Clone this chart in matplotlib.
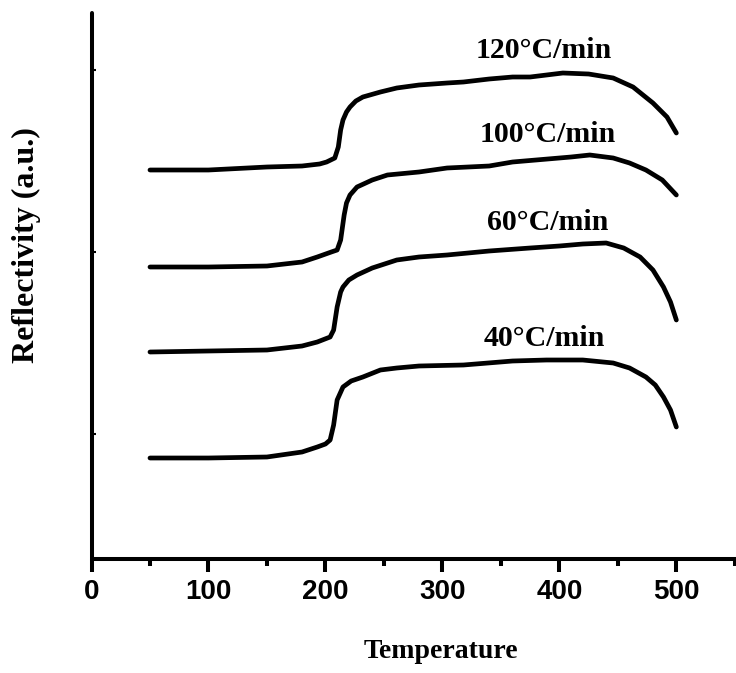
import matplotlib
matplotlib.use("Agg")
import matplotlib.pyplot as plt
from matplotlib.ticker import MultipleLocator, FixedLocator

# Data (temperature in °C, reflectivity in arbitrary units)
x_120 = [50, 100, 150, 180, 195, 201, 208, 211, 213, 215, 218, 221, 226, 232, 247, 261, 280, 304, 318, 340, 360, 375, 403, 425, 446, 463, 480, 492, 500]
y_120 = [264, 264, 267, 268, 270, 272, 276, 287, 304, 314, 322, 327, 333, 337, 342, 346, 349, 351, 352, 355, 357, 357, 361, 360, 356, 347, 331, 317, 301]

x_100 = [50, 100, 150, 180, 193, 205, 210, 213, 216, 218, 221, 227, 240, 253, 280, 304, 340, 360, 380, 410, 426, 446, 460, 474, 488, 500]
y_100 = [167, 167, 168, 172, 177, 182, 184, 194, 219, 231, 239, 247, 254, 259, 262, 266, 268, 272, 274, 277, 279, 276, 271, 264, 254, 239]

x_60 = [50, 100, 150, 180, 193, 204, 207, 210, 213, 215, 220, 227, 240, 261, 280, 304, 340, 375, 400, 420, 440, 455, 469, 480, 489, 495, 500]
y_60 = [82, 83, 84, 88, 92, 97, 104, 127, 142, 147, 154, 159, 166, 174, 177, 179, 183, 186, 188, 190, 191, 186, 177, 164, 147, 132, 114]

x_40 = [50, 100, 150, 180, 193, 200, 204, 207, 210, 215, 222, 232, 247, 261, 280, 318, 360, 389, 420, 446, 460, 474, 482, 489, 495, 500]
y_40 = [-24, -24, -23, -18, -13, -10, -6, 9, 34, 47, 53, 57, 64, 66, 68, 69, 73, 74, 74, 71, 66, 57, 49, 37, 24, 7]

labels = ["120°C/min", "100°C/min", "60°C/min", "40°C/min"]
label_x = [387, 390, 390, 387]
label_y = [384, 300, 212, 96]

x_ticks = [0, 100, 200, 300, 400, 500]

fig = plt.figure(figsize=(7.36, 6.73), dpi=100)
ax = fig.add_axes([91.5 / 736, (673 - 559) / 673, 1 - 91.5 / 736, (559 - 13) / 673])

for xs, ys in [(x_120, y_120), (x_100, y_100), (x_60, y_60), (x_40, y_40)]:
    ax.plot(xs, ys, color="black", linewidth=3.4, solid_capstyle="round", solid_joinstyle="round")

for t, lx, ly in zip(labels, label_x, label_y):
    ax.text(lx, ly, t, ha="center", va="center", fontsize=21.5, fontweight="bold",
            family="Liberation Serif")

ax.set_xlim(0, 551)
ax.set_ylim(-125, 421)

for s in ["top", "right"]:
    ax.spines[s].set_visible(False)
for s in ["left", "bottom"]:
    ax.spines[s].set_linewidth(2.9)
    ax.spines[s].set_capstyle("round")

ax.xaxis.set_major_locator(FixedLocator(x_ticks))
ax.xaxis.set_minor_locator(MultipleLocator(50))
ax.tick_params(axis="x", which="major", direction="out", length=9.5, width=2.9, pad=5)
ax.tick_params(axis="x", which="minor", direction="out", length=5, width=2.9)
ax.set_xticklabels([str(v) for v in x_ticks], fontsize=20, fontweight="bold", family="Liberation Sans")

ax.yaxis.set_major_locator(FixedLocator([0, 182, 364]))
ax.tick_params(axis="y", which="major", direction="in", length=3, width=1.5, labelleft=False)

fig.text(441 / 736, 1 - 652 / 673, "Temperature", ha="center", va="center", fontsize=20,
         fontweight="bold", family="Liberation Serif")
fig.text(26 / 736, 1 - 245 / 673, "Reflectivity (a.u.)", ha="center", va="center", fontsize=23,
         fontweight="bold", family="Liberation Serif", rotation=90)

fig.savefig("out.png", dpi=100)
